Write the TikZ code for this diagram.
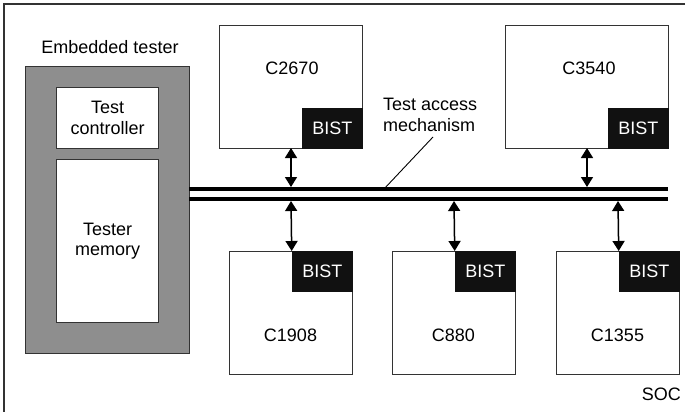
\documentclass[tikz,border=0pt]{standalone}
\usepackage{fontspec}
\setmainfont{Liberation Sans}
\usetikzlibrary{arrows.meta}
\definecolor{testergray}{HTML}{8E8E8E}
\definecolor{bistfill}{HTML}{111111}
\definecolor{edge}{HTML}{333333}
\tikzset{
  txt/.style={font=\fontsize{18}{20.5}\selectfont, inner sep=0pt},
  box/.style={draw=edge, line width=1.1pt, fill=white, inner sep=0pt, anchor=north west},
  bist/.style={fill=bistfill, text=white, inner sep=0pt, minimum width=61pt, minimum height=41pt, font=\fontsize{18}{20.5}\selectfont},
  bus/.style={line width=3.6pt},
  arr/.style={line width=1.5pt, {Triangle[width=12pt,length=10pt]}-{Triangle[width=12pt,length=10pt]}},
  frame/.style={draw=edge, line width=1.3pt},
  leader/.style={line width=0.9pt}
}
\begin{document}
\begin{tikzpicture}[x=1pt,y=-1pt]
\useasboundingbox (0,0) rectangle (689,412);
% SOC frame
\coordinate (fTR) at (685,4);
\coordinate (fTL) at (4,4);
\coordinate (fBL) at (4,412);
\draw[frame] (fTR) -- (fTL) -- (fBL);
\node[txt, anchor=base east] (soc) at (681,400) {SOC};

% Embedded tester
\node[txt, anchor=base] (etlabel) at (110,54) {Embedded tester};
\node[box, fill=testergray, minimum width=164pt, minimum height=287pt] (tester) at (25,66) {};
\node[box, minimum width=102pt, minimum height=61pt] (ctrl) at (56,87) {};
\node[txt, align=center] (ctrltxt) at (ctrl.center) {Test\\controller};
\node[box, minimum width=102pt, minimum height=163pt] (mem) at (56,159) {};
\node[txt, align=center] (memtxt) at (mem.center) {Tester\\memory};

% Bus
\coordinate (busAL) at (189,189);
\coordinate (busAR) at (668,189);
\coordinate (busBL) at (189,199);
\coordinate (busBR) at (668,199);
\draw[bus] (busAL) -- (busAR);
\draw[bus] (busBL) -- (busBR);

% Top cores
\node[box, minimum width=143pt, minimum height=123pt] (c2670) at (219,25) {};
\node[txt, anchor=base] (t2670) at (292,75) {C2670};
\node[bist, anchor=south east] (b2670) at (c2670.south east) {BIST};
\node[box, minimum width=163pt, minimum height=123pt] (c3540) at (505,25) {};
\node[txt, anchor=base] (t3540) at (589,75) {C3540};
\node[bist, anchor=south east] (b3540) at (c3540.south east) {BIST};

% Bottom cores
\node[box, minimum width=123pt, minimum height=123pt] (c1908) at (229,251) {};
\node[txt, anchor=base] (t1908) at (290.5,341) {C1908};
\node[bist, anchor=north east] (b1908) at (c1908.north east) {BIST};
\node[box, minimum width=123pt, minimum height=123pt] (c880) at (392,251) {};
\node[txt, anchor=base] (t880) at (453.5,341) {C880};
\node[bist, anchor=north east] (b880) at (c880.north east) {BIST};
\node[box, minimum width=123pt, minimum height=123pt] (c1355) at (556,251) {};
\node[txt, anchor=base] (t1355) at (617.5,341) {C1355};
\node[bist, anchor=north east] (b1355) at (c1355.north east) {BIST};

% Arrows
\coordinate (a1t) at (291,148);
\coordinate (a1b) at (291,187);
\draw[arr] (a1t) -- (a1b);
\coordinate (a2t) at (587,148);
\coordinate (a2b) at (587,187);
\draw[arr] (a2t) -- (a2b);
\coordinate (a3t) at (291,201);
\draw[arr] (a3t) -- (b1908.north west);
\coordinate (a4t) at (454,201);
\draw[arr] (a4t) -- (b880.north west);
\coordinate (a5t) at (618,201);
\draw[arr] (a5t) -- (b1355.north west);

% TAM label
\node[txt, align=left, anchor=north west] (tam) at (383,98) {Test access\\mechanism};
\coordinate (tamL) at (433,137);
\coordinate (tamB) at (384,189);
\draw[leader] (tamL) -- (tamB);
\end{tikzpicture}
\end{document}
